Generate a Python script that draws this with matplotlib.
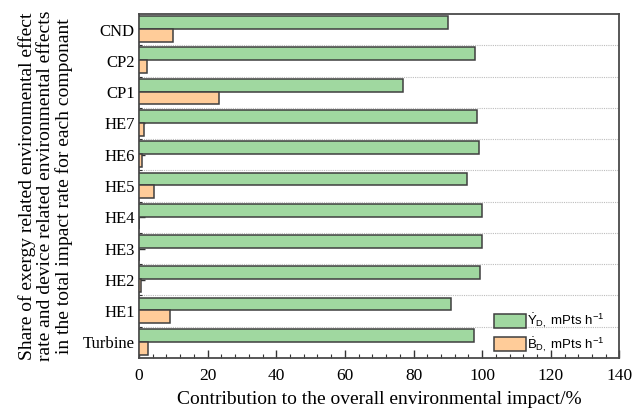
import numpy as np
import matplotlib
matplotlib.use("Agg")
import matplotlib.pyplot as plt
from matplotlib.ticker import MultipleLocator, FixedLocator

# Components, listed from bottom to top of the chart
components = ["Turbine", "HE1", "HE2", "HE3", "HE4", "HE5", "HE6", "HE7", "CP1", "CP2", "CND"]
# Share of exergy-related environmental effect rate (%)
exergy_share = [97.5, 91.0, 99.4, 100.0, 100.0, 95.6, 99.2, 98.5, 76.8, 97.8, 90.0]
# Share of device-related environmental effect rate (%)
device_share = [2.5, 9.0, 0.6, 0.0, 0.0, 4.4, 0.8, 1.5, 23.2, 2.2, 10.0]

x_ticks = [0, 20, 40, 60, 80, 100, 120, 140]

plt.rcParams["font.family"] = ["Liberation Serif", "DejaVu Serif"]
plt.rcParams["mathtext.fontset"] = "custom"
plt.rcParams["mathtext.rm"] = "Liberation Sans"
plt.rcParams["mathtext.it"] = "Liberation Sans:italic"

fig = plt.figure(figsize=(6.43, 4.16), dpi=100)
ax = fig.add_axes([0.2162, 0.1394, 0.7472, 0.8269])

pos = np.arange(len(components))
h = 0.41
edge = "#3f3f3f"
ax.barh(pos + 0.225, exergy_share, height=h, color="#a0d8a0", edgecolor=edge,
        linewidth=1.1, zorder=3,
        label=r"$\dot{\mathrm{Y}}_{\mathrm{D,}}$ mPts h$^{\mathrm{-1}}$")
ax.barh(pos - 0.185, device_share, height=h, color="#ffcc99", edgecolor=edge,
        linewidth=1.1, zorder=3,
        label=r"$\dot{\mathrm{B}}_{\mathrm{D,}}$ mPts h$^{\mathrm{-1}}$")

ax.set_xlim(0, 140)
ax.set_ylim(-0.5, len(components) - 0.5)
ax.set_xticks(x_ticks)
ax.xaxis.set_minor_locator(MultipleLocator(4))
ax.set_yticks(pos)
ax.set_yticklabels(components)
ax.yaxis.set_minor_locator(FixedLocator(np.arange(0.5, len(components) - 0.5, 1.0)))

ax.grid(which="minor", axis="y", color="#bdbdbd", linestyle=(0, (1, 1)), linewidth=0.8, zorder=0)

ax.tick_params(axis="both", which="major", direction="in", color="#333333")
ax.tick_params(axis="x", which="major", length=6, width=1.0, pad=7, labelsize=12.5)
ax.tick_params(axis="x", which="minor", direction="in", length=3, width=0.8, color="#333333")
ax.tick_params(axis="y", which="major", length=4, width=1.0, pad=3, labelsize=12)
ax.tick_params(axis="y", which="minor", direction="in", length=2, width=0.8, color="#333333")

for sp in ax.spines.values():
    sp.set_color("#4a4a4a")
    sp.set_linewidth(1.3)

ax.set_xlabel("Contribution to the overall environmental impact/%", fontsize=14, labelpad=5)
ax.set_ylabel("Share of exergy related environmental effect\n"
              "rate and device related environmental effects\n"
              "in the total impact rate for each componant",
              fontsize=14, multialignment="center", linespacing=1.08, labelpad=7)

ax.legend(loc="upper left", bbox_to_anchor=(0.739, 0.134), frameon=False,
          prop={"family": "Liberation Sans", "size": 9.5},
          handlelength=2.4, handleheight=1.3, handletextpad=0.1,
          labelspacing=0.35, borderpad=0, borderaxespad=0)

fig.savefig("out.png", dpi=100)
